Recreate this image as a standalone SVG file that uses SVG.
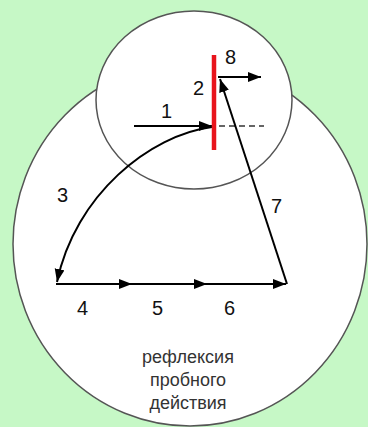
<svg xmlns="http://www.w3.org/2000/svg" width="368" height="427" viewBox="0 0 368 427">
<style>
.shape{fill:#fff;stroke:#555;stroke-width:1.5}
.ln{fill:none;stroke:#000;stroke-width:2}
.num{font-family:"Liberation Sans",Arial,sans-serif;font-size:20px;fill:#111}
.cap{font-family:"Liberation Sans",Arial,sans-serif;font-size:18px;fill:#333;text-anchor:middle}
</style>
<defs>
<marker id="ah" markerUnits="userSpaceOnUse" markerWidth="14" markerHeight="12" refX="13" refY="5" orient="auto">
<path d="M0,0 L13,5 L0,10 Z" fill="#000"/>
</marker>
</defs>
<rect width="368" height="427" fill="#c6f8c6"/>
<g id="outer"><ellipse class="shape" cx="190" cy="244" rx="177" ry="182"/></g>
<g id="inner"><ellipse class="shape" cx="194" cy="100" rx="98" ry="89"/></g>
<g id="connectors">
<line class="ln" x1="134" y1="126" x2="212" y2="126" marker-end="url(#ah)"/>
<line x1="219" y1="126" x2="264" y2="126" stroke="#333" stroke-width="1.5" stroke-dasharray="6 4"/>
<path class="ln" d="M212,127 C150,135 75,195 57,282" marker-end="url(#ah)"/>
<line class="ln" x1="56" y1="284" x2="132" y2="284" marker-end="url(#ah)"/>
<line class="ln" x1="132" y1="284" x2="207" y2="284" marker-end="url(#ah)"/>
<line class="ln" x1="207" y1="284" x2="286" y2="284" marker-end="url(#ah)"/>
<line class="ln" x1="287" y1="284" x2="220" y2="79" marker-end="url(#ah)"/>
<line class="ln" x1="218" y1="77" x2="261" y2="77" marker-end="url(#ah)"/>
</g>
<g id="barrier"><line x1="214" y1="55" x2="214" y2="150" stroke="#e8141c" stroke-width="4.5"/></g>
<g id="labels">
<text class="num" x="161" y="118">1</text>
<text class="num" x="193" y="95">2</text>
<text class="num" x="225" y="64">8</text>
<text class="num" x="57" y="202">3</text>
<text class="num" x="271" y="213">7</text>
<text class="num" x="77" y="315">4</text>
<text class="num" x="152" y="315">5</text>
<text class="num" x="224" y="315">6</text>
</g>
<g id="caption">
<text class="cap" x="188" y="363">рефлексия</text>
<text class="cap" x="188" y="386">пробного</text>
<text class="cap" x="188" y="409">действия</text>
</g>
</svg>
